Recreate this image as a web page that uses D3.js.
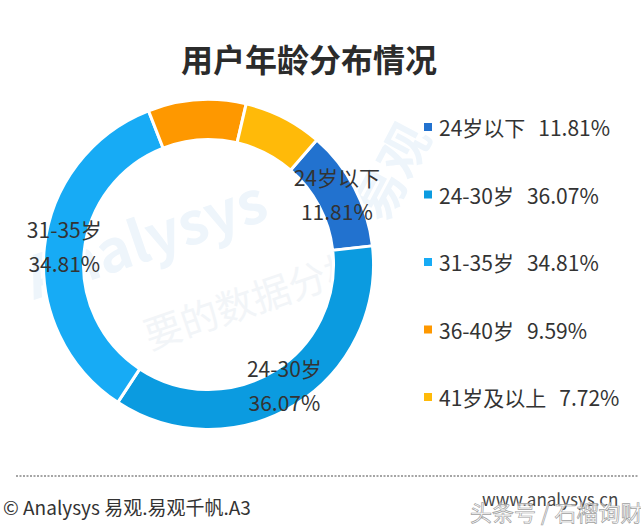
<!DOCTYPE html>
<html>
<head>
<meta charset="utf-8">
<title>用户年龄分布情况</title>
<script src="https://cdn.jsdelivr.net/npm/d3@7/dist/d3.min.js"></script>
<style>
  body { margin: 0; background: #fff; }
  text { font-family: "Noto Sans CJK SC", "Noto Sans", sans-serif; }
</style>
</head>
<body>
<svg id="chart" width="641" height="528"></svg>
<script>
// data
var categories = ["24岁以下", "24-30岁", "31-35岁", "36-40岁", "41岁及以上"];
var shares = [11.81, 36.07, 34.81, 9.59, 7.72];
var showLabel = [true, true, true, false, false];
var palette = ["#2272cf", "#0b9be0", "#17abf5", "#fe9800", "#ffba09"];

var svg = d3.select("#chart");

var rows = categories.map(function(c, i) {
  return { name: c, value: shares[i], label: showLabel[i] };
});

var color = d3.scaleOrdinal()
  .domain(categories)
  .range(palette);

// faint watermark behind everything
var wm = svg.append("g").attr("fill", "#eef5fb");
wm.append("text")
  .attr("transform", "translate(34,300) rotate(-19)")
  .attr("font-size", 58)
  .attr("font-weight", 700)
  .text("Analysys");
wm.append("text")
  .attr("transform", "translate(385,225) rotate(-62)")
  .attr("font-size", 50)
  .attr("font-weight", 700)
  .text("易观");
wm.append("text")
  .attr("transform", "translate(150,350) rotate(-19)")
  .attr("font-size", 38)
  .attr("fill", "#f2f5f8")
  .text("要的数据分析");

// title
svg.append("text")
  .attr("x", 309)
  .attr("y", 58)
  .attr("text-anchor", "middle")
  .attr("dominant-baseline", "central")
  .attr("font-size", 32)
  .attr("font-weight", 700)
  .attr("fill", "#2b2b2b")
  .text("用户年龄分布情况");

// donut
var cx = 208.5, cy = 264.5;
var start = 41 * Math.PI / 180;

var pie = d3.pie()
  .sort(null)
  .value(function(d) { return d.value; })
  .startAngle(start)
  .endAngle(start + 2 * Math.PI);

var arc = d3.arc()
  .innerRadius(125)
  .outerRadius(165);

var labelArc = d3.arc()
  .innerRadius(145)
  .outerRadius(145);

var donut = svg.append("g")
  .attr("transform", "translate(" + cx + "," + cy + ")");

var slices = pie(rows);

donut.selectAll("path.slice")
  .data(slices)
  .enter().append("path")
    .attr("class", "slice")
    .attr("d", arc)
    .attr("fill", function(d) { return color(d.data.name); })
    .attr("stroke", "#fff")
    .attr("stroke-width", 3);

var labels = donut.selectAll("g.lbl")
  .data(slices.filter(function(d) { return d.data.label; }))
  .enter().append("g")
    .attr("class", "lbl")
    .attr("transform", function(d) {
      var c = labelArc.centroid(d);
      return "translate(" + c[0] + "," + (c[1] - 3) + ")";
    });

labels.append("text")
  .attr("y", -17)
  .attr("text-anchor", "middle")
  .attr("dominant-baseline", "central")
  .attr("font-size", 21)
  .attr("fill", "#333")
  .text(function(d) { return d.data.name; });

labels.append("text")
  .attr("y", 17)
  .attr("text-anchor", "middle")
  .attr("dominant-baseline", "central")
  .attr("font-size", 21)
  .attr("fill", "#333")
  .text(function(d) { return d.data.value.toFixed(2) + "%"; });

// legend
var legendY = d3.scalePoint()
  .domain(categories)
  .range([127, 397]);

var legend = svg.append("g")
  .selectAll("g")
  .data(rows)
  .enter().append("g")
    .attr("transform", function(d) { return "translate(424," + legendY(d.name) + ")"; });

legend.append("rect")
  .attr("x", 0)
  .attr("y", -4)
  .attr("width", 8)
  .attr("height", 8)
  .attr("fill", function(d) { return color(d.name); });

var lt = legend.append("text")
  .attr("x", 15)
  .attr("dominant-baseline", "central")
  .attr("font-size", 21)
  .attr("fill", "#333");
lt.append("tspan").text(function(d) { return d.name; });
lt.append("tspan").attr("dx", 13).text(function(d) { return d.value.toFixed(2) + "%"; });

// footer
svg.append("line")
  .attr("x1", 16).attr("x2", 638)
  .attr("y1", 476).attr("y2", 476)
  .attr("stroke", "#888")
  .attr("stroke-width", 1.3)
  .attr("stroke-dasharray", "2,1.5");

svg.append("text")
  .attr("x", 3)
  .attr("y", 515)
  .attr("font-size", 19)
  .attr("fill", "#333")
  .text("© Analysys 易观.易观千帆.A3");

svg.append("text")
  .attr("x", 482)
  .attr("y", 506)
  .attr("font-size", 17)
  .attr("fill", "#444")
  .text("www.analysys.cn");

svg.append("text")
  .attr("x", 470)
  .attr("y", 521)
  .attr("font-size", 22)
  .attr("fill", "#fff")
  .attr("fill-opacity", 0.6)
  .attr("stroke", "#a0a0a0")
  .attr("stroke-width", 0.7)
  .text("头条号 / 石榴询财");
</script>
</body>
</html>
